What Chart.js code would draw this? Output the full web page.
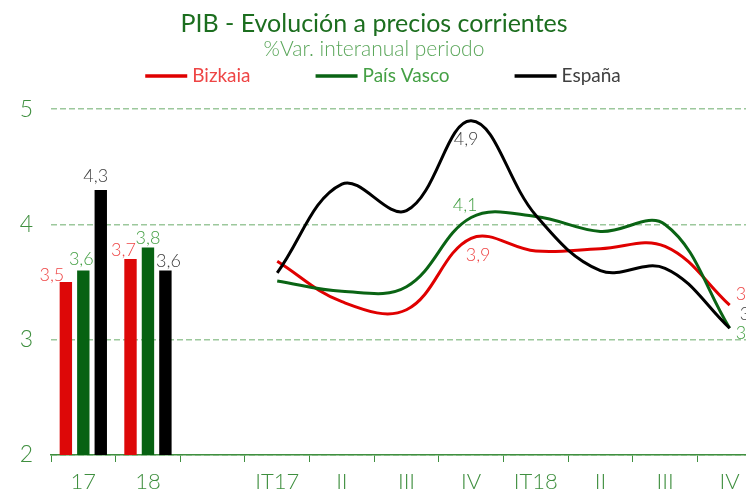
<!DOCTYPE html>
<html>
<head>
<meta charset="utf-8">
<script src="https://cdn.jsdelivr.net/npm/chart.js@4.4.0/dist/chart.umd.min.js"></script>
<style>
  html, body { margin: 0; padding: 0; background: #fff; overflow: hidden; }
  #wrap { width: 772px; height: 491px; }
</style>
</head>
<body>
<div id="wrap"><canvas id="pibChart"></canvas></div>
<script>
// categorías del eje X
const categories = ['17', '18', '', 'IT17', 'II', 'III', 'IV', 'IT18', 'II', 'III', 'IV'];

// datos anuales (barras)
const bizkaiaAnual = [3.5, 3.7, null, null, null, null, null, null, null, null, null];
const paisVascoAnual = [3.6, 3.8, null, null, null, null, null, null, null, null, null];
const espanaAnual = [4.3, 3.6, null, null, null, null, null, null, null, null, null];

// datos trimestrales (líneas)
const bizkaiaTrim = [null, null, null, 3.68, 3.33, 3.26, 3.88, 3.77, 3.79, 3.81, 3.3];
const paisVascoTrim = [null, null, null, 3.51, 3.42, 3.46, 4.06, 4.07, 3.94, 4.0, 3.1];
const espanaTrim = [null, null, null, 3.58, 4.35, 4.12, 4.9, 4.08, 3.6, 3.62, 3.1];

const yTicks = [2, 3, 4, 5];

const RED = '#e00000';
const GREEN = '#0a6414';
const BLACK = '#000000';
const RED_TXT = '#ee4545';
const GREEN_TXT = '#45a045';
const BLACK_TXT = '#404040';
const AXIS_GREEN = '#3f8f3f';

const fmt = v => v.toFixed(1).replace('.', ',');

// etiquetas de datos dibujadas a mano
const labelPlugin = {
    id: 'valueLabels',
    afterDatasetsDraw(chart, args, opts) {
        const ctx = chart.ctx;
        ctx.save();
        ctx.font = '300 18px Lato';
        ctx.textBaseline = 'middle';
        opts.items.forEach(it => {
            const ds = chart.data.datasets[it.ds];
            const v = ds.data[it.i];
            if (v === null) return;
            const el = chart.getDatasetMeta(it.ds).data[it.i];
            ctx.fillStyle = ds.labelColor;
            ctx.textAlign = it.align || 'center';
            const y = ds.type === 'bar' ? el.y - 10 : el.y;
            ctx.fillText(fmt(v), el.x + it.dx, y + it.dy);
        });
        ctx.restore();
    }
};

// leyenda con líneas, dibujada en el hueco bajo el subtítulo
const legendPlugin = {
    id: 'lineLegend',
    afterDraw(chart, args, opts) {
        const ctx = chart.ctx;
        const items = chart.data.datasets.filter(ds => ds.type === 'line');
        ctx.save();
        ctx.font = '19px Lato';
        ctx.textBaseline = 'middle';
        ctx.textAlign = 'left';
        const widths = items.map(ds => opts.lineWidth + opts.textGap + ctx.measureText(ds.label).width);
        const total = widths.reduce((a, b) => a + b, 0) + opts.itemGap * (items.length - 1);
        const tb = chart.titleBlock;
        let x = (tb.left + tb.right) / 2 + opts.shift - total / 2;
        const y = opts.y;
        items.forEach((ds, k) => {
            ctx.fillStyle = ds.borderColor;
            ctx.fillRect(x, y - 1.75, opts.lineWidth, 3.5);
            ctx.fillStyle = ds.labelColor;
            ctx.fillText(ds.label, x + opts.lineWidth + opts.textGap, y);
            x += widths[k] + opts.itemGap;
        });
        ctx.restore();
    }
};

const ctx = document.getElementById('pibChart').getContext('2d');
new Chart(ctx, {
    data: {
        labels: categories,
        datasets: [
            { type: 'bar', label: 'Bizkaia', data: bizkaiaAnual, backgroundColor: '#dd0808', labelColor: RED_TXT, order: 4 },
            { type: 'bar', label: 'País Vasco', data: paisVascoAnual, backgroundColor: '#076212', labelColor: GREEN_TXT, order: 5 },
            { type: 'bar', label: 'España', data: espanaAnual, backgroundColor: BLACK, labelColor: BLACK_TXT, order: 6 },
            { type: 'line', label: 'Bizkaia', data: bizkaiaTrim, borderColor: RED, backgroundColor: RED, borderWidth: 3, pointRadius: 0, tension: 0.38, labelColor: RED_TXT, order: 3 },
            { type: 'line', label: 'País Vasco', data: paisVascoTrim, borderColor: GREEN, backgroundColor: GREEN, borderWidth: 3, pointRadius: 0, tension: 0.38, labelColor: GREEN_TXT, order: 2 },
            { type: 'line', label: 'España', data: espanaTrim, borderColor: BLACK, backgroundColor: BLACK, borderWidth: 3, pointRadius: 0, tension: 0.38, labelColor: BLACK_TXT, order: 1 }
        ]
    },
    options: {
        responsive: true,
        maintainAspectRatio: false,
        animation: false,
        datasets: {
            bar: { categoryPercentage: 0.81, barPercentage: 0.71 }
        },
        layout: { padding: { left: -14, right: 10, top: 0, bottom: 0 } },
        plugins: {
            title: {
                display: true,
                text: 'PIB - Evolución a precios corrientes',
                color: '#1c6e1f',
                font: { family: 'Lato', size: 25, weight: 'normal' },
                padding: { top: 9, bottom: -2 }
            },
            subtitle: {
                display: true,
                text: '%Var. interanual periodo',
                color: '#5aa65a',
                font: { family: 'Lato', size: 21, weight: 300 },
                padding: { top: 0, bottom: 47 }
            },
            legend: { display: false },
            tooltip: { enabled: false },
            lineLegend: { y: 76, lineWidth: 42, textGap: 5, itemGap: 65, shift: 9 },
            valueLabels: {
                items: [
                    { ds: 0, i: 0, dx: -14, dy: 3 },
                    { ds: 1, i: 0, dx: -2, dy: -1 },
                    { ds: 2, i: 0, dx: -5, dy: -4 },
                    { ds: 0, i: 1, dx: -7, dy: 1 },
                    { ds: 1, i: 1, dx: 0, dy: 1 },
                    { ds: 2, i: 1, dx: 3, dy: 1 },
                    { ds: 5, i: 6, dx: -5, dy: 18 },
                    { ds: 4, i: 6, dx: -6, dy: -12 },
                    { ds: 3, i: 6, dx: 7, dy: 17 },
                    { ds: 3, i: 10, dx: 6, dy: -11, align: 'left' },
                    { ds: 5, i: 10, dx: 10, dy: -14, align: 'left' },
                    { ds: 4, i: 10, dx: 6, dy: 5, align: 'left' }
                ]
            }
        },
        scales: {
            x: {
                offset: true,
                grid: { display: true, drawOnChartArea: false, tickLength: 7, color: AXIS_GREEN, offset: true },
                border: { color: AXIS_GREEN, width: 1.5 },
                ticks: { color: AXIS_GREEN, font: { family: 'Lato', size: 22, weight: 300 }, padding: 7, maxRotation: 0, autoSkip: false },
                afterFit(scale) { scale.height = 36; }
            },
            y: {
                min: 2,
                max: 5,
                afterBuildTicks(scale) { scale.ticks = yTicks.map(v => ({ value: v })); },
                grid: { color: '#9cc89c', lineWidth: 1.5, drawTicks: false },
                border: { display: false, dash: [6, 3] },
                ticks: { color: AXIS_GREEN, font: { family: 'Lato', size: 23, weight: 300 }, padding: 18 },
                afterFit(scale) { scale.width = 65; }
            }
        }
    },
    plugins: [labelPlugin, legendPlugin]
});
</script>
</body>
</html>
